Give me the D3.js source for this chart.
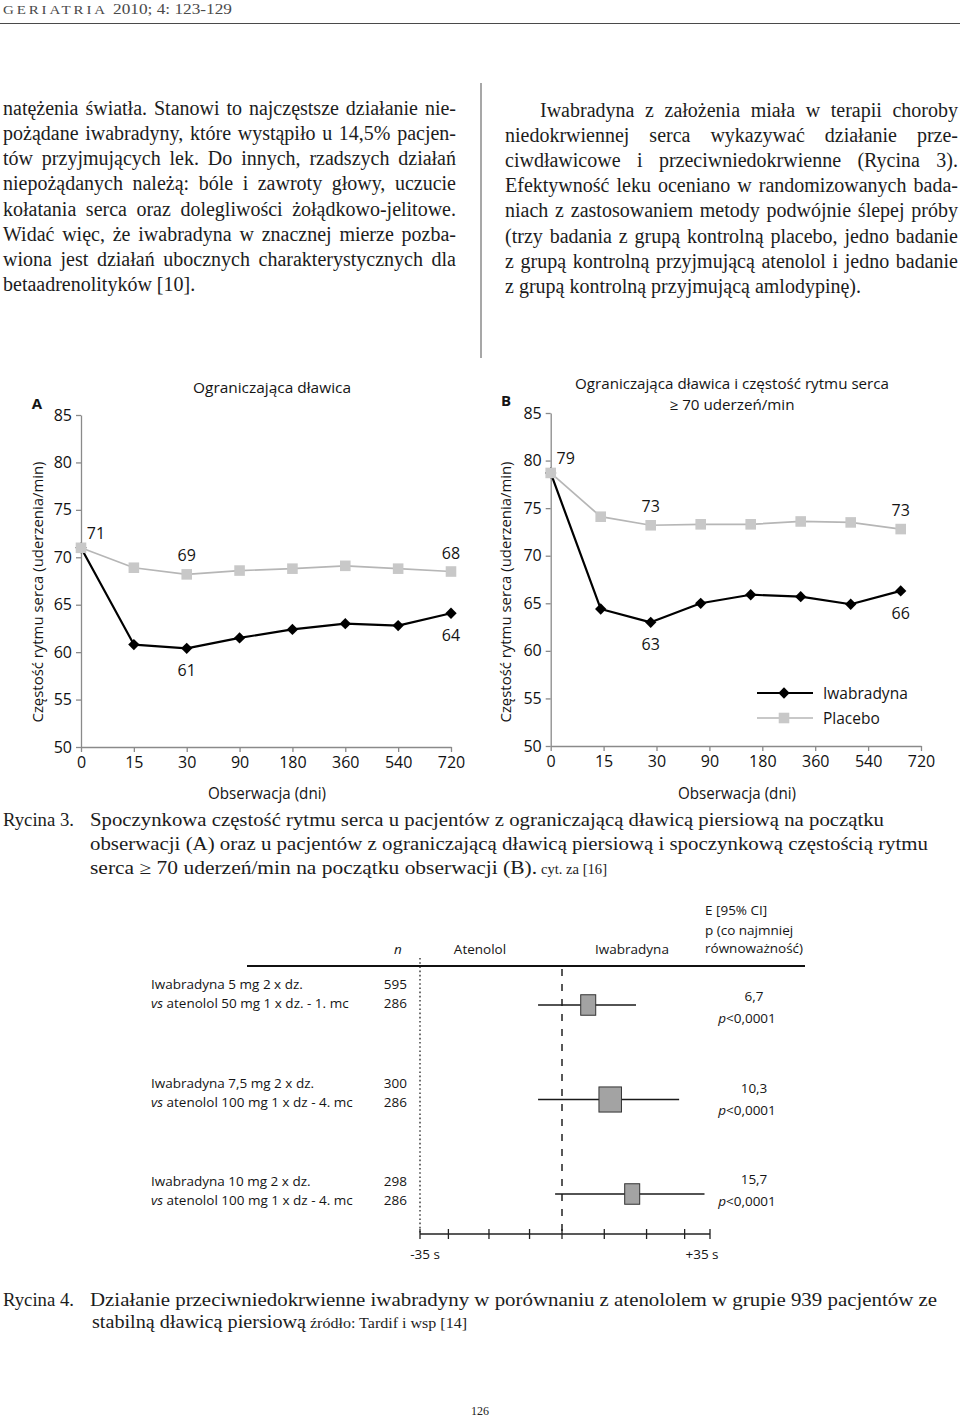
<!DOCTYPE html>
<html lang="pl">
<head>
<meta charset="utf-8">
<title>Rycina 3 i 4</title>
<script src="https://cdn.jsdelivr.net/npm/d3@7/dist/d3.min.js"></script>
<style>
html,body{margin:0;padding:0;background:#fff;}
svg{display:block;}
.body{font-family:"Liberation Serif","DejaVu Serif",serif;font-size:20px;fill:#1c1c1c;}
.cap{font-family:"Liberation Serif","DejaVu Serif",serif;font-size:18px;fill:#1c1c1c;}
.capsm{font-family:"Liberation Serif","DejaVu Serif",serif;font-size:14px;fill:#1c1c1c;}
.chart{font-family:"Open Sans","Noto Sans",sans-serif;fill:#141414;}
.forest{font-family:"Open Sans","Noto Sans",sans-serif;font-size:13.5px;fill:#151515;}
</style>
</head>
<body>
<svg id="page" width="960" height="1418" viewBox="0 0 960 1418"></svg>
<script>
// ---------------- DATA ----------------
const leftColumnLines = [
  "natężenia światła. Stanowi to najczęstsze działanie nie-",
  "pożądane iwabradyny, które wystąpiło u 14,5% pacjen-",
  "tów przyjmujących lek. Do innych, rzadszych działań",
  "niepożądanych należą: bóle i zawroty głowy, uczucie",
  "kołatania serca oraz dolegliwości żołądkowo-jelitowe.",
  "Widać więc, że iwabradyna w znacznej mierze pozba-",
  "wiona jest działań ubocznych charakterystycznych dla",
  "betaadrenolityków [10]."
];
const rightColumnLines = [
  "Iwabradyna z założenia miała w terapii choroby",
  "niedokrwiennej serca wykazywać działanie prze-",
  "ciwdławicowe i przeciwniedokrwienne (Rycina 3).",
  "Efektywność leku oceniano w randomizowanych bada-",
  "niach z zastosowaniem metody podwójnie ślepej próby",
  "(trzy badania z grupą kontrolną placebo, jedno badanie",
  "z grupą kontrolną przyjmującą atenolol i jedno badanie",
  "z grupą kontrolną przyjmującą amlodypinę)."
];

const days = ["0", "15", "30", "90", "180", "360", "540", "720"];
const hrTicks = [50, 55, 60, 65, 70, 75, 80, 85];
const seriesNames = ["Iwabradyna", "Placebo"];

const aIwabradyna = [71.0, 60.8, 60.4, 61.5, 62.4, 63.0, 62.8, 64.1];
const aPlacebo    = [71.0, 68.9, 68.2, 68.6, 68.8, 69.1, 68.8, 68.5];
const bIwabradyna = [78.7, 64.4, 63.0, 65.0, 65.9, 65.7, 64.9, 66.3];
const bPlacebo    = [78.7, 74.1, 73.2, 73.3, 73.3, 73.6, 73.5, 72.8];

const aValueLabels = [
  {series: "placebo", index: 0, text: "71", pos: "upright"},
  {series: "placebo", index: 2, text: "69", pos: "above"},
  {series: "placebo", index: 7, text: "68", pos: "above"},
  {series: "iwabradyna", index: 2, text: "61", pos: "below"},
  {series: "iwabradyna", index: 7, text: "64", pos: "below"}
];
const bValueLabels = [
  {series: "placebo", index: 0, text: "79", pos: "upright"},
  {series: "placebo", index: 2, text: "73", pos: "above"},
  {series: "placebo", index: 7, text: "73", pos: "above"},
  {series: "iwabradyna", index: 2, text: "63", pos: "below"},
  {series: "iwabradyna", index: 7, text: "66", pos: "below"}
];

const forestRows = ["r1", "r2", "r3"];
const forestLine1 = ["Iwabradyna 5 mg 2 x dz.", "Iwabradyna 7,5 mg 2 x dz.", "Iwabradyna 10 mg 2 x dz."];
const forestLine2 = [" atenolol 50 mg 1 x dz. - 1. mc", " atenolol 100 mg 1 x dz - 4. mc", " atenolol 100 mg 1 x dz - 4. mc"];
const nIwabradyna = [595, 300, 298];
const nAtenolol = [286, 286, 286];
const effect = [6.2, 11.4, 16.6];
const ciLow = [-5.9, -5.9, -1.7];
const ciHigh = [17.5, 27.7, 33.7];
const weight = [1.0, 1.5, 1.0];
const effectLabels = ["6,7", "10,3", "15,7"];
const pLabels = ["<0,0001", "<0,0001", "<0,0001"];
const forestTicks = [-35, -28, -18, -8, 0, 10, 20, 29, 35];

// ---------------- PAGE ----------------
const svg = d3.select("#page");
svg.append("rect").attr("width", 960).attr("height", 1418).attr("fill", "#fff");

// running header
const hdr = svg.append("text").attr("x", 3).attr("y", 14)
  .attr("font-family", '"Liberation Serif", serif').attr("fill", "#4a4a4a");
hdr.append("tspan").attr("font-size", 13.5).attr("letter-spacing", 2.6)
  .attr("textLength", 105).attr("lengthAdjust", "spacingAndGlyphs").text("GERIATRIA");
hdr.append("tspan").attr("font-size", 14).attr("x", 113)
  .attr("textLength", 119).attr("lengthAdjust", "spacingAndGlyphs").text("2010; 4: 123-129");
svg.append("line").attr("x1", 0).attr("x2", 960).attr("y1", 23.5).attr("y2", 23.5)
  .attr("stroke", "#4a4a4a").attr("stroke-width", 1.2);

// justified body text
function setLine(parent, str, x0, x1, y, cls, justify) {
  const g = parent.append("g");
  const words = str.split(" ");
  const nodes = words.map(w => g.append("text").attr("class", cls).attr("y", y).text(w));
  const lens = nodes.map(n => n.node().getComputedTextLength());
  const total = d3.sum(lens);
  const p1 = g.append("text").attr("class", cls).text("n n");
  const p2 = g.append("text").attr("class", cls).text("nn");
  const space = p1.node().getComputedTextLength() - p2.node().getComputedTextLength();
  p1.remove(); p2.remove();
  let gap = space;
  if (justify && words.length > 1) gap = (x1 - x0 - total) / (words.length - 1);
  if (gap < space * 0.45) {
    g.selectAll("*").remove();
    g.append("text").attr("class", cls).attr("x", x0).attr("y", y)
      .attr("textLength", x1 - x0).attr("lengthAdjust", "spacingAndGlyphs").text(str);
    return;
  }
  let x = x0;
  nodes.forEach((n, i) => { n.attr("x", x); x += lens[i] + gap; });
}

const textG = svg.append("g");
leftColumnLines.forEach((s, i) => {
  setLine(textG, s, 3, 456, 115 + 25.14 * i, "body", i < leftColumnLines.length - 1);
});
rightColumnLines.forEach((s, i) => {
  setLine(textG, s, i === 0 ? 540 : 505, 958, 117 + 25.1 * i, "body", i < rightColumnLines.length - 1);
});
svg.append("line").attr("x1", 481).attr("x2", 481).attr("y1", 83).attr("y2", 358)
  .attr("stroke", "#8a8a8a").attr("stroke-width", 1.5);

// ---------------- LINE CHARTS ----------------
const panels = [
  {key: "A", iwa: aIwabradyna, pla: aPlacebo, labels: aValueLabels,
   title: ["Ograniczająca dławica"], titleLen: [158], titleX: 272, titleY: [387],
   left: 81, axisRight: 451, markRight: 451, top: 415, bottom: 747,
   letterX: 37, letterY: 402.5, yTitleX: 37, xTitleX: 267, legend: false},
  {key: "B", iwa: bIwabradyna, pla: bPlacebo, labels: bValueLabels,
   title: ["Ograniczająca dławica i częstość rytmu serca", "≥ 70 uderzeń/min"], titleLen: [314, 125],
   titleX: 732, titleY: [383.5, 404],
   left: 550.7, axisRight: 921, markRight: 900.7, top: 413, bottom: 746,
   letterX: 506, letterY: 400, yTitleX: 505, xTitleX: 737, legend: true}
];

const diamond = d3.symbol(d3.symbolSquare, 64)();
const square = d3.symbol(d3.symbolSquare, 112)();
const plaLine = "#b6b6b6", plaFill = "#c8c8c8";

panels.forEach(p => {
  const g = svg.append("g");
  const xAxisScale = d3.scalePoint().domain(days).range([p.left, p.axisRight]);
  const xMark = d3.scalePoint().domain(days).range([p.left, p.markRight]);
  const y = d3.scaleLinear().domain([50, 85]).range([p.bottom, p.top]);

  const yAx = g.append("g").attr("transform", `translate(${p.left},0)`)
    .call(d3.axisLeft(y).tickValues(hrTicks).tickSize(5).tickSizeOuter(0).tickPadding(4));
  const xAx = g.append("g").attr("transform", `translate(0,${p.bottom})`)
    .call(d3.axisBottom(xAxisScale).tickSize(5).tickSizeOuter(0).tickPadding(5));
  [yAx, xAx].forEach(a => {
    a.attr("font-family", '"Open Sans", "Noto Sans", sans-serif').attr("font-size", 16);
    a.selectAll("path,line").attr("stroke", "#8a8a8a").attr("stroke-width", 1.3);
    a.selectAll("text").attr("fill", "#111");
  });

  const line = d3.line().x((d, i) => xMark(days[i])).y(d => y(d));
  g.append("path").datum(p.pla).attr("d", line).attr("fill", "none")
    .attr("stroke", plaLine).attr("stroke-width", 1.7);
  g.append("path").datum(p.iwa).attr("d", line).attr("fill", "none")
    .attr("stroke", "#000").attr("stroke-width", 2.2).attr("stroke-linejoin", "round");
  g.selectAll(".dia").data(p.iwa).join("path").attr("class", "dia")
    .attr("transform", (d, i) => `translate(${xMark(days[i])},${y(d)}) rotate(45)`)
    .attr("d", diamond).attr("fill", "#000");
  g.selectAll(".sq").data(p.pla).join("path").attr("class", "sq")
    .attr("transform", (d, i) => `translate(${xMark(days[i])},${y(d)})`)
    .attr("d", square).attr("fill", plaFill);

  const off = {above: [0, -19], below: [0, 22], upright: [15, -15]};
  g.selectAll(".vl").data(p.labels).join("text").attr("class", "chart vl")
    .attr("x", d => xMark(days[d.index]) + off[d.pos][0])
    .attr("y", d => y((d.series === "iwabradyna" ? p.iwa : p.pla)[d.index]) + off[d.pos][1])
    .attr("text-anchor", "middle").attr("dominant-baseline", "central")
    .attr("font-size", 16).text(d => d.text);

  p.title.forEach((t, i) => {
    g.append("text").attr("class", "chart").attr("x", p.titleX).attr("y", p.titleY[i])
      .attr("text-anchor", "middle").attr("dominant-baseline", "central").attr("font-size", 14.5)
      .attr("textLength", p.titleLen[i]).attr("lengthAdjust", "spacingAndGlyphs").text(t);
  });
  g.append("text").attr("class", "chart").attr("x", p.letterX).attr("y", p.letterY)
    .attr("text-anchor", "middle").attr("dominant-baseline", "central")
    .attr("font-size", 15).attr("font-weight", 700).text(p.key);
  g.append("text").attr("class", "chart")
    .attr("transform", `translate(${p.yTitleX},592) rotate(-90)`)
    .attr("text-anchor", "middle").attr("dominant-baseline", "central").attr("font-size", 15)
    .attr("textLength", 261).attr("lengthAdjust", "spacingAndGlyphs")
    .text("Częstość rytmu serca (uderzenia/min)");
  g.append("text").attr("class", "chart").attr("x", p.xTitleX).attr("y", 793)
    .attr("text-anchor", "middle").attr("dominant-baseline", "central").attr("font-size", 15.5)
    .attr("textLength", 118).attr("lengthAdjust", "spacingAndGlyphs").text("Obserwacja (dni)");

  if (p.legend) {
    const lg = g.append("g").attr("transform", "translate(757,693)");
    seriesNames.forEach((name, i) => {
      const row = lg.append("g").attr("transform", `translate(0,${i * 25})`);
      row.append("line").attr("x1", 0).attr("x2", 56)
        .attr("stroke", i === 0 ? "#000" : plaLine).attr("stroke-width", i === 0 ? 2.2 : 1.7);
      row.append("path").attr("transform", i === 0 ? "translate(27,0) rotate(45)" : "translate(27,0)")
        .attr("d", i === 0 ? diamond : square).attr("fill", i === 0 ? "#000" : plaFill);
      row.append("text").attr("class", "chart").attr("x", 66).attr("dominant-baseline", "central")
        .attr("font-size", 15.5).text(name);
    });
  }
});

// ---------------- CAPTIONS ----------------
function capText(x, y, str, len, cls) {
  const t = svg.append("text").attr("class", cls).attr("x", x).attr("y", y).text(str);
  if (len) t.attr("textLength", len).attr("lengthAdjust", "spacingAndGlyphs");
  return t;
}
capText(3, 826, "Rycina 3.", 71, "cap");
capText(90, 826, "Spoczynkowa częstość rytmu serca u pacjentów z ograniczającą dławicą piersiową na początku", 794, "cap");
capText(90, 850, "obserwacji (A) oraz u pacjentów z ograniczającą dławicą piersiową i spoczynkową częstością rytmu", 838, "cap");
capText(90, 874, "serca ≥ 70 uderzeń/min na początku obserwacji (B).", 447, "cap");
capText(541, 874, "cyt. za [16]", 66, "capsm");

capText(3, 1306, "Rycina 4.", 71, "cap");
capText(90, 1306, "Działanie przeciwniedokrwienne iwabradyny w porównaniu z atenololem w grupie 939 pacjentów ze", 847, "cap");
capText(92, 1328, "stabilną dławicą piersiową", 214, "cap");
capText(310, 1328, "źródło: Tardif i wsp [14]", 157, "capsm");

svg.append("text").attr("x", 480).attr("y", 1415).attr("text-anchor", "middle")
  .attr("font-family", '"Liberation Serif", serif').attr("font-size", 12).attr("fill", "#222").text("126");

// ---------------- FOREST PLOT ----------------
const fg = svg.append("g");
const fx = d3.scaleLinear().domain([-35, 0, 35]).range([420, 562, 710]);
const yMark = d3.scalePoint().domain(forestRows).range([1005, 1194]);
const yLab = d3.scalePoint().domain(forestRows).range([993.5, 1190.5]);
const yStat = d3.scalePoint().domain(forestRows).range([1007, 1190.3]);

// header
fg.append("text").attr("class", "forest").attr("x", 398).attr("y", 949).attr("text-anchor", "middle")
  .attr("dominant-baseline", "central").attr("font-style", "italic").text("n");
fg.append("text").attr("class", "forest").attr("x", 480).attr("y", 949).attr("text-anchor", "middle")
  .attr("dominant-baseline", "central").text("Atenolol");
fg.append("text").attr("class", "forest").attr("x", 632).attr("y", 949).attr("text-anchor", "middle")
  .attr("dominant-baseline", "central").text("Iwabradyna");
["E [95% CI]", "p (co najmniej", "równoważność)"].forEach((t, i) => {
  fg.append("text").attr("class", "forest").attr("x", 705).attr("y", [910, 930, 947.5][i])
    .attr("dominant-baseline", "central").text(t);
});
fg.append("line").attr("x1", 247).attr("x2", 805).attr("y1", 966).attr("y2", 966)
  .attr("stroke", "#111").attr("stroke-width", 2);

// reference lines
fg.append("line").attr("x1", fx(-35)).attr("x2", fx(-35)).attr("y1", 958).attr("y2", 1234)
  .attr("stroke", "#222").attr("stroke-width", 1.3).attr("stroke-dasharray", "1.6,2.6");
fg.append("line").attr("x1", fx(0)).attr("x2", fx(0)).attr("y1", 969).attr("y2", 1234)
  .attr("stroke", "#222").attr("stroke-width", 1.5).attr("stroke-dasharray", "7,8");

// axis
fg.append("line").attr("x1", fx(-35)).attr("x2", fx(35)).attr("y1", 1234).attr("y2", 1234)
  .attr("stroke", "#222").attr("stroke-width", 1.5);
fg.selectAll(".ftick").data(forestTicks).join("line").attr("class", "ftick")
  .attr("x1", d => fx(d)).attr("x2", d => fx(d)).attr("y1", 1229).attr("y2", 1239)
  .attr("stroke", "#222").attr("stroke-width", 1.3);
fg.append("text").attr("class", "forest").attr("x", fx(-35) + 5).attr("y", 1254)
  .attr("text-anchor", "middle").attr("dominant-baseline", "central").text("-35 s");
fg.append("text").attr("class", "forest").attr("x", fx(35) - 8).attr("y", 1254)
  .attr("text-anchor", "middle").attr("dominant-baseline", "central").text("+35 s");

// rows
forestRows.forEach((r, i) => {
  fg.append("text").attr("class", "forest").attr("x", 151).attr("y", yLab(r) - 9.5)
    .attr("dominant-baseline", "central").text(forestLine1[i]);
  const t2 = fg.append("text").attr("class", "forest").attr("x", 151).attr("y", yLab(r) + 9.5)
    .attr("dominant-baseline", "central");
  t2.append("tspan").attr("font-style", "italic").text("vs");
  t2.append("tspan").text(forestLine2[i]);
  fg.append("text").attr("class", "forest").attr("x", 407).attr("y", yLab(r) - 9.5)
    .attr("text-anchor", "end").attr("dominant-baseline", "central").text(nIwabradyna[i]);
  fg.append("text").attr("class", "forest").attr("x", 407).attr("y", yLab(r) + 9.5)
    .attr("text-anchor", "end").attr("dominant-baseline", "central").text(nAtenolol[i]);

  fg.append("line").attr("x1", fx(ciLow[i])).attr("x2", fx(ciHigh[i]))
    .attr("y1", yMark(r)).attr("y2", yMark(r)).attr("stroke", "#1a1a1a").attr("stroke-width", 1.6);
  const bw = 15 * weight[i], bh = 20.5 * Math.sqrt(weight[i]);
  fg.append("rect").attr("x", fx(effect[i]) - bw / 2).attr("y", yMark(r) - bh / 2)
    .attr("width", bw).attr("height", bh).attr("fill", "#a3a3a3")
    .attr("stroke", "#333").attr("stroke-width", 1);

  fg.append("text").attr("class", "forest").attr("x", 754).attr("y", yStat(r) - 11)
    .attr("text-anchor", "middle").attr("dominant-baseline", "central").text(effectLabels[i]);
  const pt = fg.append("text").attr("class", "forest").attr("x", 747).attr("y", yStat(r) + 11)
    .attr("text-anchor", "middle").attr("dominant-baseline", "central");
  pt.append("tspan").attr("font-style", "italic").text("p");
  pt.append("tspan").text(pLabels[i]);
});
</script>
</body>
</html>
